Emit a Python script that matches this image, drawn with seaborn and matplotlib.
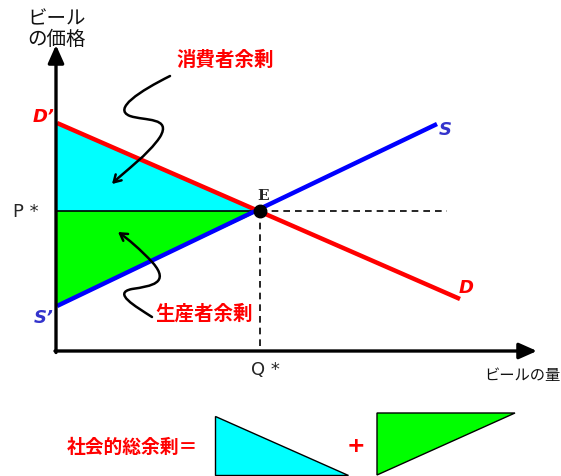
import numpy as np
import pandas as pd
import seaborn as sns
import matplotlib
matplotlib.use("Agg")
import matplotlib.pyplot as plt
from matplotlib.path import Path
from matplotlib.patches import FancyArrowPatch, Polygon

# ---- data (diagram coordinates, y grows downward) ----
demand_x = [57, 460]
demand_y = [124, 300]
supply_x = [57, 437]
supply_y = [307, 125]
eq_x = 260
eq_y = 212
price_line_end = 447
origin = (57, 352)
cs_poly = [(57, 124), (260, 212), (57, 212)]
ps_poly = [(57, 212), (260, 212), (57, 307)]
legend_cs = [(215, 417), (215, 476), (348, 476)]
legend_ps = [(377, 414), (377, 476), (515, 414)]

sns.set_theme(style="white")
plt.rcParams['font.family'] = ['Noto Sans CJK JP', 'DejaVu Sans']

fig = plt.figure(figsize=(5.61, 4.77), dpi=100)
ax = fig.add_axes([0, 0, 1, 1])
ax.set_xlim(0, 561)
ax.set_ylim(477, 0)
ax.axis('off')

# fills
ax.add_patch(Polygon(cs_poly, closed=True, facecolor='#00FFFF', edgecolor='none', zorder=1))
ax.add_patch(Polygon(ps_poly, closed=True, facecolor='#00FF00', edgecolor='none', zorder=1))

# price line
ax.plot([57, eq_x], [eq_y, eq_y], color='black', lw=1.2, zorder=2)
ax.plot([eq_x, price_line_end], [eq_y, eq_y], color='black', lw=1.2, ls=(0, (4, 3)), zorder=2)
ax.plot([eq_x, eq_x], [eq_y, origin[1]], color='black', lw=1.2, ls=(0, (4, 3)), zorder=2)

# supply / demand lines via seaborn
df = pd.DataFrame({
    'x': demand_x + supply_x,
    'y': demand_y + supply_y,
    'curve': ['D', 'D', 'S', 'S'],
})
sns.lineplot(data=df, x='x', y='y', hue='curve', palette={'D': '#FF0000', 'S': '#0000FF'},
             linewidth=3.2, legend=False, ax=ax, zorder=3, sort=False)
for l in ax.lines[-2:]:
    l.set_solid_capstyle('butt')

# axes arrows
ax.annotate('', xy=(56, 46), xytext=(56, origin[1] + 1.5),
            arrowprops=dict(arrowstyle='-|>,head_length=0.9,head_width=0.4', color='black', lw=2.4,
                            shrinkA=0, shrinkB=0), zorder=4)
ax.annotate('', xy=(537, origin[1]), xytext=(55, origin[1]),
            arrowprops=dict(arrowstyle='-|>,head_length=0.9,head_width=0.4', color='black', lw=2.4,
                            shrinkA=0, shrinkB=0), zorder=4)

# equilibrium point
ax.plot([eq_x], [eq_y], 'o', color='black', markersize=9, zorder=5)

# squiggle arrows
def squiggle(verts):
    codes = [Path.MOVETO] + [Path.CURVE4] * (len(verts) - 1)
    p = FancyArrowPatch(path=Path(verts, codes), arrowstyle='->,head_length=5,head_width=3',
                        color='black', lw=1.8, zorder=6)
    ax.add_patch(p)

squiggle([(170, 77), (140, 92), (112, 110), (130, 117),
          (145, 122), (172, 118), (160, 138),
          (148, 156), (125, 172), (112, 185)])
squiggle([(152, 318), (135, 307), (112, 294), (132, 290),
          (152, 287), (170, 284), (153, 264),
          (140, 250), (128, 240), (118, 233)])

# labels
ax.text(57, 29, 'ビール\nの価格', ha='center', va='center', fontsize=14, linespacing=1.0, color='#111111')
ax.text(522, 376, 'ビールの量', ha='center', va='center', fontsize=11, color='#111111')
ax.text(26, 212, 'P *', ha='center', va='center', fontsize=13, family='DejaVu Sans')
ax.text(265, 370, 'Q *', ha='center', va='center', fontsize=13, family='DejaVu Sans')
ax.text(263, 196, 'E', ha='center', va='center', fontsize=11, fontweight='bold', family='DejaVu Serif')
ax.text(44, 117, "D’", ha='center', va='center', fontsize=13, color='#FF0000',
        fontweight='bold', fontstyle='italic', family='DejaVu Sans')
ax.text(44, 318, "S’", ha='center', va='center', fontsize=13, color='#3333CC',
        fontweight='bold', fontstyle='italic', family='DejaVu Sans')
ax.text(445, 130, 'S', ha='center', va='center', fontsize=13, color='#3333CC',
        fontweight='bold', fontstyle='italic', family='DejaVu Sans')
ax.text(466, 288, 'D', ha='center', va='center', fontsize=13, color='#FF0000',
        fontweight='bold', fontstyle='italic', family='DejaVu Sans')
ax.text(225, 60, '消費者余剰', ha='center', va='center', fontsize=14, color='#FF0000', fontweight='bold')
ax.text(204, 314, '生産者余剰', ha='center', va='center', fontsize=14, color='#FF0000', fontweight='bold')
ax.text(132, 447, '社会的総余剰＝', ha='center', va='center', fontsize=13.5, color='#FF0000', fontweight='bold')
ax.text(356, 446, '+', ha='center', va='center', fontsize=16, color='#FF0000', fontweight='bold',
        family='DejaVu Sans')

# legend triangles
ax.add_patch(Polygon(legend_cs, closed=True, facecolor='#00FFFF', edgecolor='black', lw=1.0))
ax.add_patch(Polygon(legend_ps, closed=True, facecolor='#00FF00', edgecolor='black', lw=1.0))

fig.savefig('out.png', dpi=100)
